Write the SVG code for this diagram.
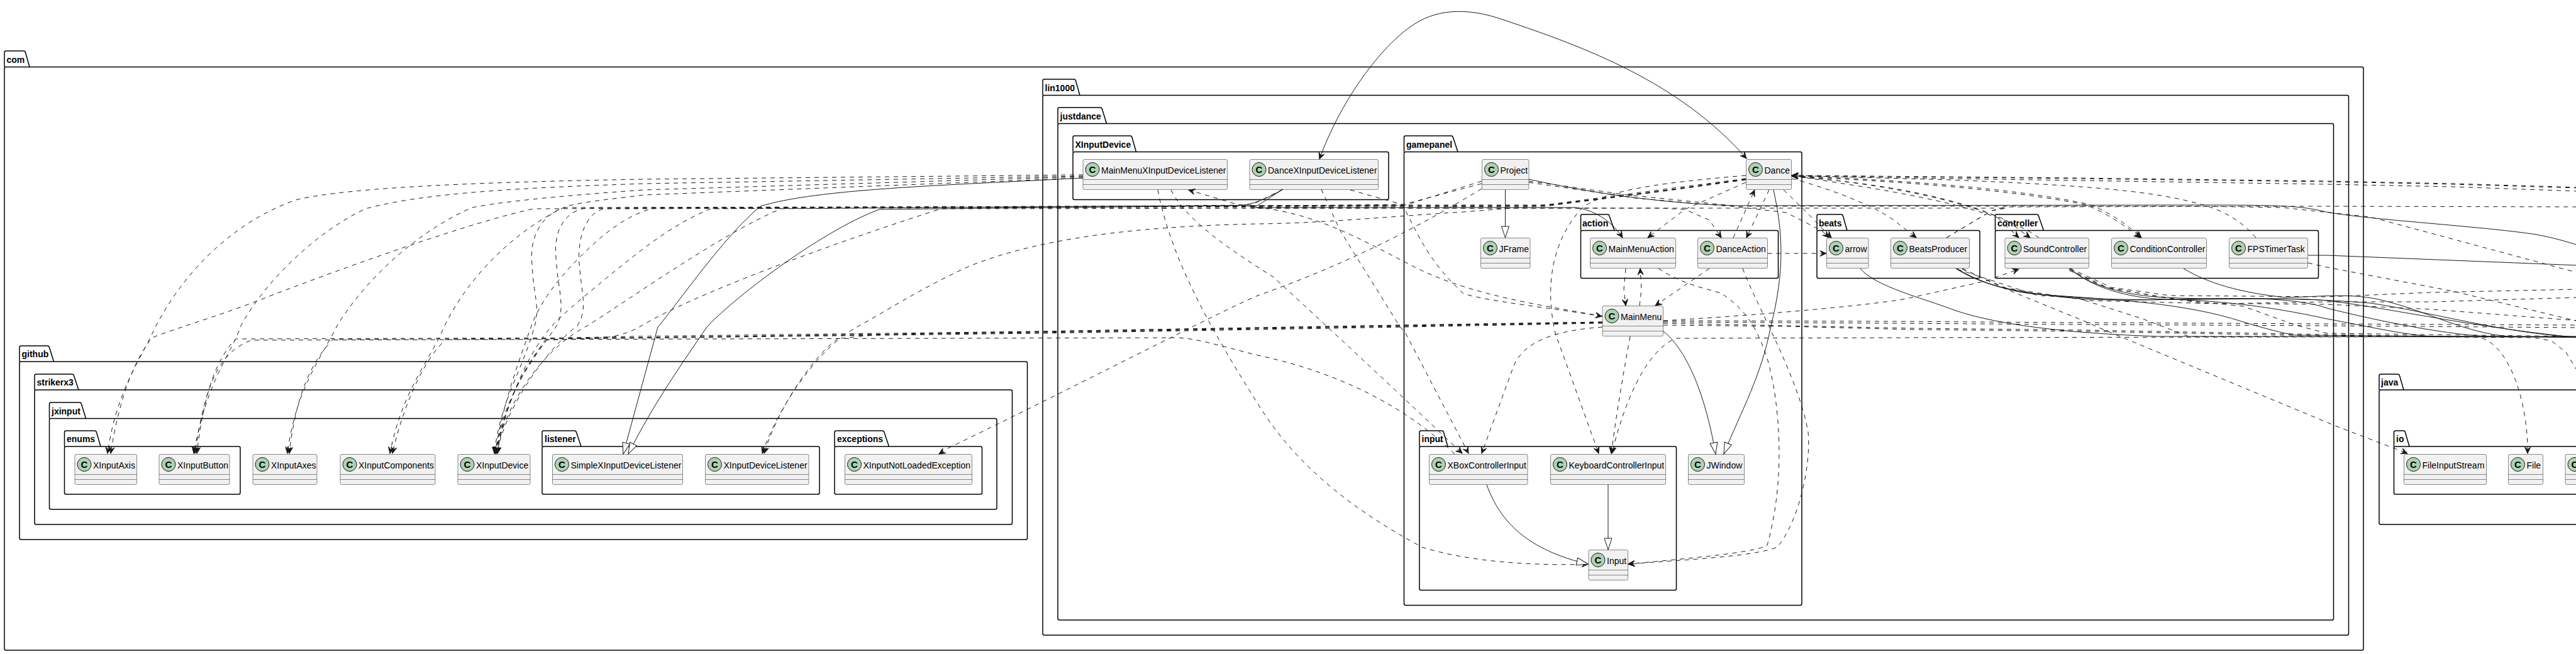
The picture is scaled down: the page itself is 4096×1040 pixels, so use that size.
<svg xmlns="http://www.w3.org/2000/svg" width="4096" height="1040" viewBox="0 0 4096 1040">
<style>
text{font-family:"Liberation Sans",Arial,sans-serif;fill:#000}
.p rect{fill:none;stroke:#000;stroke-width:1.5}
.p path{fill:none;stroke:#000;stroke-width:1.5}
.p text{font-size:14px;font-weight:bold}
.c rect{fill:#F1F1F1;stroke:#181818;stroke-width:.5}
.c path{fill:none;stroke:#181818;stroke-width:.5}
.c circle{fill:#ADD1B2;stroke:#181818;stroke-width:1}
.c text{font-size:14px}
.c text.g{font-size:15px;font-weight:bold;text-anchor:middle}
#connectors polyline,#connectors path{fill:none;stroke:#181818;stroke-width:1;stroke-linejoin:round}
#connectors .d{stroke-dasharray:7,7}
</style>
<defs>
<marker id="a" markerUnits="userSpaceOnUse" markerWidth="12" markerHeight="12" viewBox="-11 -6 12 12" refX="0" refY="0" orient="auto"><path d="M0,0 L-10,-4.5 L-6,0 L-10,4.5 Z" fill="#181818" stroke="#181818" stroke-width="1" stroke-dasharray="none"/></marker>
<marker id="t" markerUnits="userSpaceOnUse" markerWidth="22" markerHeight="16" viewBox="-20 -8 22 16" refX="0" refY="0" orient="auto"><path d="M0,0 L-18,-6 L-18,6 Z" fill="#fff" stroke="#181818" stroke-width="1" stroke-dasharray="none"/></marker>
</defs>

<g id="pkg-com" class="p"><rect x="7" y="106.5" width="3751" height="927.5" rx="2.5"/><path d="M7,106.5 V83.5 Q7,81 9.5,81 H37.5 Q40,81 40.5,83.5 L47,106.5"/><text x="10.5" y="99.5">com</text></g>
<g id="pkg-github" class="p"><rect x="31" y="575" width="1602.5" height="283" rx="2.5"/><path d="M31,575 V552.5 Q31,550 33.5,550 H75.5 Q78,550 78.5,552.5 L85.5,575"/><text x="34.5" y="568">github</text></g>
<g id="pkg-strikerx3" class="p"><rect x="55" y="620" width="1554.5" height="214" rx="2.5"/><path d="M55,620 V597.5 Q55,595 57.5,595 H114.5 Q117,595 117.5,597.5 L125,620"/><text x="58.5" y="613">strikerx3</text></g>
<g id="pkg-jxinput" class="p"><rect x="78.5" y="665.5" width="1506.5" height="144.5" rx="2.5"/><path d="M78.5,665.5 V642.5 Q78.5,640 81,640 H126.5 Q129,640 129.5,642.5 L136.5,665.5"/><text x="82" y="658.5">jxinput</text></g>
<g id="pkg-enums" class="p"><rect x="102.5" y="710" width="279.5" height="76" rx="2.5"/><path d="M102.5,710 V687.5 Q102.5,685 105,685 H150.5 Q153,685 153.5,687.5 L160,710"/><text x="106" y="703">enums</text></g>
<g id="pkg-listener" class="p"><rect x="862" y="710" width="441" height="76" rx="2.5"/><path d="M862,710 V687.5 Q862,685 864.5,685 H913.5 Q916,685 916.5,687.5 L924,710"/><text x="866" y="703">listener</text></g>
<g id="pkg-exceptions" class="p"><rect x="1327" y="710" width="234.5" height="76" rx="2.5"/><path d="M1327,710 V687.5 Q1327,685 1329.5,685 H1403 Q1405.5,685 1406,687.5 L1413.5,710"/><text x="1331" y="703">exceptions</text></g>
<g id="pkg-lin1000" class="p"><rect x="1658" y="151.5" width="2076.5" height="858.5" rx="2.5"/><path d="M1658,151.5 V128.5 Q1658,126 1660.5,126 H1707.5 Q1710,126 1710.5,128.5 L1717,151.5"/><text x="1661.5" y="144.5">lin1000</text></g>
<g id="pkg-justdance" class="p"><rect x="1682" y="196.5" width="2028.5" height="789.5" rx="2.5"/><path d="M1682,196.5 V173.5 Q1682,171 1684.5,171 H1749.5 Q1752,171 1752.5,173.5 L1759.5,196.5"/><text x="1685.5" y="189.5">justdance</text></g>
<g id="pkg-XInputDevice" class="p"><rect x="1706" y="241.5" width="502" height="76" rx="2.5"/><path d="M1706,241.5 V218.5 Q1706,216 1708.5,216 H1797 Q1799.5,216 1800,218.5 L1806.5,241.5"/><text x="1709.5" y="234.5">XInputDevice</text></g>
<g id="pkg-gamepanel" class="p"><rect x="2232.5" y="241.5" width="632.5" height="721" rx="2.5"/><path d="M2232.5,241.5 V218.5 Q2232.5,216 2235,216 H2307.5 Q2310,216 2310.5,218.5 L2318,241.5"/><text x="2236" y="234.5">gamepanel</text></g>
<g id="pkg-action" class="p"><rect x="2513.5" y="366.5" width="314" height="76" rx="2.5"/><path d="M2513.5,366.5 V343.5 Q2513.5,341 2516,341 H2556 Q2558.5,341 2559,343.5 L2567,366.5"/><text x="2516" y="359.5">action</text></g>
<g id="pkg-beats" class="p"><rect x="2889" y="366.5" width="259" height="76" rx="2.5"/><path d="M2889,366.5 V343.5 Q2889,341 2891.5,341 H2927.5 Q2930,341 2930.5,343.5 L2937,366.5"/><text x="2892" y="359.5">beats</text></g>
<g id="pkg-controller" class="p"><rect x="3172.5" y="366.5" width="514" height="76" rx="2.5"/><path d="M3172.5,366.5 V343.5 Q3172.5,341 3175,341 H3238.5 Q3241,341 3241.5,343.5 L3249.5,366.5"/><text x="3176" y="359.5">controller</text></g>
<g id="pkg-input" class="p"><rect x="2257" y="710" width="408.5" height="228.5" rx="2.5"/><path d="M2257,710 V687.5 Q2257,685 2259.5,685 H2292.5 Q2295,685 2295.5,687.5 L2302,710"/><text x="2260.5" y="703">input</text></g>
<g id="pkg-java" class="p"><rect x="3783" y="620" width="400" height="214" rx="2.5"/><path d="M3783,620 V597.5 Q3783,595 3785.5,595 H3812.5 Q3815,595 3815.5,597.5 L3822,620"/><text x="3786" y="613">java</text></g>
<g id="pkg-io" class="p"><rect x="3806.5" y="710" width="350" height="76" rx="2.5"/><path d="M3806.5,710 V687.5 Q3806.5,685 3809,685 H3821.5 Q3824,685 3824.5,687.5 L3831,710"/><text x="3810" y="703">io</text></g>

<g id="XInputAxis" class="c"><rect x="119" y="722.5" width="98.5" height="48" rx="2.5"/><path d="M119,754.5 H217.5 M119,762.5 H217.5"/><circle cx="134" cy="738.5" r="11"/><text class="g" x="134" y="744">C</text><text x="148" y="744.5">XInputAxis</text></g>
<g id="XInputButton" class="c"><rect x="253" y="722.5" width="112" height="48" rx="2.5"/><path d="M253,754.5 H365 M253,762.5 H365"/><circle cx="268" cy="738.5" r="11"/><text class="g" x="268" y="744">C</text><text x="282" y="744.5">XInputButton</text></g>
<g id="XInputAxes" class="c"><rect x="402" y="722.5" width="102" height="48" rx="2.5"/><path d="M402,754.5 H504 M402,762.5 H504"/><circle cx="417" cy="738.5" r="11"/><text class="g" x="417" y="744">C</text><text x="431" y="744.5">XInputAxes</text></g>
<g id="XInputComponents" class="c"><rect x="541" y="722.5" width="151" height="48" rx="2.5"/><path d="M541,754.5 H692 M541,762.5 H692"/><circle cx="556" cy="738.5" r="11"/><text class="g" x="556" y="744">C</text><text x="570" y="744.5">XInputComponents</text></g>
<g id="XInputDevice" class="c"><rect x="728" y="722.5" width="115" height="48" rx="2.5"/><path d="M728,754.5 H843 M728,762.5 H843"/><circle cx="743" cy="738.5" r="11"/><text class="g" x="743" y="744">C</text><text x="757" y="744.5">XInputDevice</text></g>
<g id="SimpleXInputDeviceListener" class="c"><rect x="878.5" y="722.5" width="207" height="48" rx="2.5"/><path d="M878.5,754.5 H1085.5 M878.5,762.5 H1085.5"/><circle cx="893.5" cy="738.5" r="11"/><text class="g" x="893.5" y="744">C</text><text x="907.5" y="744.5">SimpleXInputDeviceListener</text></g>
<g id="XInputDeviceListener" class="c"><rect x="1121.5" y="722.5" width="164.5" height="48" rx="2.5"/><path d="M1121.5,754.5 H1286 M1121.5,762.5 H1286"/><circle cx="1136.5" cy="738.5" r="11"/><text class="g" x="1136.5" y="744">C</text><text x="1150.5" y="744.5">XInputDeviceListener</text></g>
<g id="XInputNotLoadedException" class="c"><rect x="1343.5" y="722.5" width="202" height="48" rx="2.5"/><path d="M1343.5,754.5 H1545.5 M1343.5,762.5 H1545.5"/><circle cx="1358.5" cy="738.5" r="11"/><text class="g" x="1358.5" y="744">C</text><text x="1372.5" y="744.5">XInputNotLoadedException</text></g>
<g id="MainMenuXInputDeviceListener" class="c"><rect x="1722" y="253.5" width="229.5" height="48" rx="2.5"/><path d="M1722,285.5 H1951.5 M1722,293.5 H1951.5"/><circle cx="1737" cy="269.5" r="11"/><text class="g" x="1737" y="275">C</text><text x="1751" y="275.5">MainMenuXInputDeviceListener</text></g>
<g id="DanceXInputDeviceListener" class="c"><rect x="1987" y="253.5" width="204.5" height="48" rx="2.5"/><path d="M1987,285.5 H2191.5 M1987,293.5 H2191.5"/><circle cx="2002" cy="269.5" r="11"/><text class="g" x="2002" y="275">C</text><text x="2016" y="275.5">DanceXInputDeviceListener</text></g>
<g id="Project" class="c"><rect x="2356.5" y="253.5" width="74.5" height="48" rx="2.5"/><path d="M2356.5,285.5 H2431 M2356.5,293.5 H2431"/><circle cx="2371.5" cy="269.5" r="11"/><text class="g" x="2371.5" y="275">C</text><text x="2385.5" y="275.5">Project</text></g>
<g id="Dance" class="c"><rect x="2776.5" y="253.5" width="72" height="48" rx="2.5"/><path d="M2776.5,285.5 H2848.5 M2776.5,293.5 H2848.5"/><circle cx="2791.5" cy="269.5" r="11"/><text class="g" x="2791.5" y="275">C</text><text x="2805.5" y="275.5">Dance</text></g>
<g id="JFrame" class="c"><rect x="2354.5" y="378.5" width="78.5" height="48" rx="2.5"/><path d="M2354.5,410.5 H2433 M2354.5,418.5 H2433"/><circle cx="2369.5" cy="394.5" r="11"/><text class="g" x="2369.5" y="400">C</text><text x="2383.5" y="400.5">JFrame</text></g>
<g id="MainMenuAction" class="c"><rect x="2528.5" y="378.5" width="136" height="48" rx="2.5"/><path d="M2528.5,410.5 H2664.5 M2528.5,418.5 H2664.5"/><circle cx="2543.5" cy="394.5" r="11"/><text class="g" x="2543.5" y="400">C</text><text x="2557.5" y="400.5">MainMenuAction</text></g>
<g id="DanceAction" class="c"><rect x="2699.5" y="378.5" width="111" height="48" rx="2.5"/><path d="M2699.5,410.5 H2810.5 M2699.5,418.5 H2810.5"/><circle cx="2714.5" cy="394.5" r="11"/><text class="g" x="2714.5" y="400">C</text><text x="2728.5" y="400.5">DanceAction</text></g>
<g id="arrow" class="c"><rect x="2904.5" y="378.5" width="66.5" height="48" rx="2.5"/><path d="M2904.5,410.5 H2971 M2904.5,418.5 H2971"/><circle cx="2919.5" cy="394.5" r="11"/><text class="g" x="2919.5" y="400">C</text><text x="2933.5" y="400.5">arrow</text></g>
<g id="BeatsProducer" class="c"><rect x="3006.5" y="378.5" width="125" height="48" rx="2.5"/><path d="M3006.5,410.5 H3131.5 M3006.5,418.5 H3131.5"/><circle cx="3021.5" cy="394.5" r="11"/><text class="g" x="3021.5" y="400">C</text><text x="3035.5" y="400.5">BeatsProducer</text></g>
<g id="SoundController" class="c"><rect x="3188" y="378.5" width="133.5" height="48" rx="2.5"/><path d="M3188,410.5 H3321.5 M3188,418.5 H3321.5"/><circle cx="3203" cy="394.5" r="11"/><text class="g" x="3203" y="400">C</text><text x="3217" y="400.5">SoundController</text></g>
<g id="ConditionController" class="c"><rect x="3357.5" y="378.5" width="151" height="48" rx="2.5"/><path d="M3357.5,410.5 H3508.5 M3357.5,418.5 H3508.5"/><circle cx="3372.5" cy="394.5" r="11"/><text class="g" x="3372.5" y="400">C</text><text x="3386.5" y="400.5">ConditionController</text></g>
<g id="FPSTimerTask" class="c"><rect x="3544.5" y="378.5" width="125" height="48" rx="2.5"/><path d="M3544.5,410.5 H3669.5 M3544.5,418.5 H3669.5"/><circle cx="3559.5" cy="394.5" r="11"/><text class="g" x="3559.5" y="400">C</text><text x="3573.5" y="400.5">FPSTimerTask</text></g>
<g id="MainMenu" class="c"><rect x="2548" y="486.5" width="96.5" height="48" rx="2.5"/><path d="M2548,518.5 H2644.5 M2548,526.5 H2644.5"/><circle cx="2563" cy="502.5" r="11"/><text class="g" x="2563" y="508">C</text><text x="2577" y="508.5">MainMenu</text></g>
<g id="XBoxControllerInput" class="c"><rect x="2272.5" y="722.5" width="156.5" height="48" rx="2.5"/><path d="M2272.5,754.5 H2429 M2272.5,762.5 H2429"/><circle cx="2287.5" cy="738.5" r="11"/><text class="g" x="2287.5" y="744">C</text><text x="2301.5" y="744.5">XBoxControllerInput</text></g>
<g id="KeyboardControllerInput" class="c"><rect x="2465.5" y="722.5" width="183" height="48" rx="2.5"/><path d="M2465.5,754.5 H2648.5 M2465.5,762.5 H2648.5"/><circle cx="2480.5" cy="738.5" r="11"/><text class="g" x="2480.5" y="744">C</text><text x="2494.5" y="744.5">KeyboardControllerInput</text></g>
<g id="JWindow" class="c"><rect x="2684.5" y="722.5" width="89" height="48" rx="2.5"/><path d="M2684.5,754.5 H2773.5 M2684.5,762.5 H2773.5"/><circle cx="2699.5" cy="738.5" r="11"/><text class="g" x="2699.5" y="744">C</text><text x="2713.5" y="744.5">JWindow</text></g>
<g id="Input" class="c"><rect x="2526" y="874.5" width="62.5" height="48" rx="2.5"/><path d="M2526,906.5 H2588.5 M2526,914.5 H2588.5"/><circle cx="2541" cy="890.5" r="11"/><text class="g" x="2541" y="896">C</text><text x="2555" y="896.5">Input</text></g>
<g id="FileInputStream" class="c"><rect x="3822.5" y="722.5" width="131" height="48" rx="2.5"/><path d="M3822.5,754.5 H3953.5 M3822.5,762.5 H3953.5"/><circle cx="3837.5" cy="738.5" r="11"/><text class="g" x="3837.5" y="744">C</text><text x="3851.5" y="744.5">FileInputStream</text></g>
<g id="File" class="c"><rect x="3988.5" y="722.5" width="55" height="48" rx="2.5"/><path d="M3988.5,754.5 H4043.5 M3988.5,762.5 H4043.5"/><circle cx="4003.5" cy="738.5" r="11"/><text class="g" x="4003.5" y="744">C</text><text x="4017.5" y="744.5">File</text></g>
<g id="ClippedClass" class="c"><rect x="4079" y="722.5" width="60" height="48" rx="2.5"/><path d="M4079,754.5 H4139 M4079,762.5 H4139"/><circle cx="4094" cy="738.5" r="11"/><text class="g" x="4094" y="744">C</text></g>

<g id="connectors">
<path class="d" marker-end="url(#a)" d="M1722,278 L1024,285 C800,289 560,296 470,318 C380,350 300,420 248,518 C225,570 185,620 171,721"/>
<path class="d" marker-end="url(#a)" d="M1722,280 L1024,292 C850,298 680,305 581,332 C500,370 420,450 383,518 C370,560 330,600 308,721"/>
<path class="d" marker-end="url(#a)" d="M1722,281 L1024,302 C880,312 790,322 751,330 C680,360 590,430 536,518 C510,570 470,620 457,721"/>
<path class="d" marker-end="url(#a)" d="M1722,283 L1024,310 C980,316 930,320 901,328 C830,360 750,430 707,518 C680,580 640,620 620,721"/>
<path marker-end="url(#t)" d="M1722,283 C1500,295 1300,300 1209,328 C1150,377 1080,480 1046,520 L991,722"/>
<path marker-end="url(#t)" d="M2040,301 C2010,318 1990,326 1967,327 L1398,333 C1300,370 1160,480 1124,520 C1090,570 1040,640 999,722"/>
<path class="d" marker-end="url(#a)" d="M2776,285 L2653,302 L2457,327 L1400,330 L849,332 C760,350 560,420 405,480 C340,505 270,525 242,537 C215,570 190,630 176,721"/>
<path class="d" marker-end="url(#a)" d="M2776,285 L2653,302 L2457,327 L2232,327 L900,330 C870,335 840,370 846,420 C848,470 860,490 849,522 C830,590 795,640 786,721"/>
<path class="d" marker-end="url(#a)" d="M2776,284 L2653,300 L2457,326 L2232,326 L930,331 C895,338 880,370 884,410 C887,460 900,490 885,518 C865,550 800,620 788,721"/>
<path class="d" marker-end="url(#a)" d="M2776,286 L2653,303 L2457,328 L2232,329 L960,332 C930,340 918,380 921,420 C925,470 935,490 918,518 C880,545 805,640 790,721"/>
<path class="d" marker-end="url(#a)" d="M2356,292 L2232,325 L1967,328 L1040,331 C1000,340 960,370 921,410 C880,450 855,490 845,518 C825,575 800,640 787,721"/>
<path class="d" marker-end="url(#a)" d="M2356,288 L2232,327 L1967,327 L1130,332 C1060,360 1000,413 927,473 C895,500 885,510 878,518 C840,560 805,640 789,721"/>
<path class="d" marker-end="url(#a)" d="M2040,301 L1990,326 L1242,332 C1150,370 1010,470 934,518 C880,545 810,620 788,721"/>
<path class="d" marker-end="url(#a)" d="M3095,378 L3167,335 L3190,331 L2232,331 L1496,332 C1300,395 1100,470 1020,518 C1000,530 980,535 960,537 L869,541 C835,582 803,640 788,721"/>
<path class="d" marker-end="url(#a)" d="M2548,512 L2233,517 L1653,527 L1000,535 L869,538 C830,590 803,640 791,721"/>
<path class="d" marker-end="url(#a)" d="M2776,285 C2650,303 2500,325 2326,337 C2200,345 2100,355 2000,356 C1800,360 1650,380 1542,423 C1470,455 1400,500 1366,518 L1333,538 C1300,560 1240,640 1215,721"/>
<path class="d" marker-end="url(#a)" d="M2548,512 L2233,517 L1653,527 L1400,532 L1336,538 C1300,565 1240,640 1212,721"/>
<path class="d" marker-end="url(#a)" d="M2548,513 L2233,518 L1653,528 L1000,537 L375,539 C345,570 325,620 313,721"/>
<path class="d" marker-end="url(#a)" d="M2548,513 L2233,519 L1653,529 L1000,537 L529,540 C495,575 470,630 460,721"/>
<path class="d" marker-end="url(#a)" d="M2548,514 L2233,520 L1653,530 L1000,538 L709,540 C680,565 645,630 624,721"/>
<path class="d" marker-end="url(#a)" d="M2313,722 C2229,640 2118,590 2000,565 C1940,550 1900,537 1869,537 L400,541 C345,560 325,620 310,721"/>
<path class="d" marker-end="url(#a)" d="M2356,300 C2290,340 2170,410 2000,470 C1940,495 1700,620 1509,712 L1493,722"/>
<path class="d" marker-end="url(#a)" d="M2548,503 C2450,485 2340,470 2250,425 C2180,390 2100,340 2000,330 L1967,325 L1890,302"/>
<path class="d" marker-end="url(#a)" d="M2147,302 L2229,325 C2250,360 2265,410 2327,467 C2370,480 2470,490 2547,503"/>
<path class="d" marker-end="url(#a)" d="M1862,302 C1885,350 1960,400 2024,440 C2090,500 2240,640 2325,721"/>
<polyline class="d" marker-end="url(#a)" points="2101,301 2131,367 2225,518 2235,530 2335,721"/>
<path class="d" marker-end="url(#a)" d="M2548,520 C2480,525 2420,540 2405,587 L2356,721"/>
<path class="d" marker-end="url(#a)" d="M1841,302 C1860,400 1910,500 2000,642 C2060,740 2150,810 2261,870 C2340,895 2450,900 2525,897"/>
<path marker-end="url(#t)" d="M2393.5,301.5 V378"/>
<path class="d" marker-end="url(#a)" d="M2776,279 C2650,290 2560,300 2516,330 C2470,380 2455,450 2473,530 L2542,721"/>
<polyline class="d" marker-end="url(#a)" points="2776,290 2679,333 2620,378"/>
<polyline class="d" marker-end="url(#a)" points="2813,302 2777,378"/>
<polyline class="d" marker-end="url(#a)" points="2756,378 2790,302"/>
<polyline class="d" marker-end="url(#a)" points="2836,302 2863,328 2912,378"/>
<polyline class="d" marker-end="url(#a)" points="2431,290 2600,315 2762,329 2840,338 2897,367 2908,378"/>
<path marker-end="url(#a)" d="M2040,301 C2010,320 2000,328 1990,330 L2505,330 C2540,335 2565,355 2580,378"/>
<polyline class="d" marker-end="url(#a)" points="2000,331 2640,331 2679,333 2718,350 2737,378"/>
<polyline class="d" marker-end="url(#a)" points="2585,427 2582,460 2585,486"/>
<polyline class="d" marker-end="url(#a)" points="2607,486 2610,460 2608,427"/>
<polyline class="d" marker-end="url(#a)" points="2718,427 2632,486"/>
<path class="d" marker-end="url(#a)" d="M2637,427 C2680,455 2720,460 2738,467 C2770,490 2790,510 2810,570 C2830,640 2840,760 2810,867 C2790,880 2660,890 2589,897"/>
<path class="d" marker-end="url(#a)" d="M2771,427 C2790,480 2860,600 2875,687 C2880,740 2860,830 2826,870 C2790,885 2680,890 2589,897"/>
<path marker-end="url(#t)" d="M2820,302 C2835,370 2838,430 2816,518 C2800,600 2770,650 2741,722"/>
<path marker-end="url(#t)" d="M2645,527 C2680,555 2710,620 2728,722"/>
<path class="d" marker-end="url(#a)" d="M2592,535 C2580,600 2570,660 2562,721"/>
<path class="d" marker-end="url(#a)" d="M4100,535 L3025,537 L2666,538 C2630,550 2590,610 2563,721"/>
<path marker-end="url(#t)" d="M2557,770.5 V874"/>
<path marker-end="url(#t)" d="M2364,771 C2385,830 2430,875 2525,897"/>
<polyline class="d" marker-end="url(#a)" points="2810.5,403 2904,403"/>
<path marker-end="url(#a)" d="M2242,43 C2190,80 2130,165 2098,253"/>
<path marker-end="url(#a)" d="M2242,43 C2280,15 2330,10 2392,32 C2520,75 2670,130 2777,252"/>
<path class="d" marker-end="url(#a)" d="M3587,378 C3560,345 3520,330 3500,325 C3430,305 3330,295 3100,286 L2849,279"/>
<path class="d" marker-end="url(#a)" d="M3242,378 C3200,347 3107,320 2950,295 L2849,279"/>
<path class="d" marker-end="url(#a)" d="M2850,280 C3000,285 3200,298 3322,325 C3360,340 3385,360 3405,378"/>
<path class="d" marker-end="url(#a)" d="M2850,281 C3000,287 3190,300 3318,326 C3355,342 3380,360 3403,378"/>
<path class="d" marker-end="url(#a)" d="M2850,281 C2950,288 3080,305 3173,343 L3210,378"/>
<path class="d" marker-end="url(#a)" d="M2850,280 C2970,290 3100,312 3190,350 L3228,378"/>
<path class="d" marker-end="url(#a)" d="M2849,284 C2910,300 2990,330 3020,357 L3047,378"/>
<polyline class="d" marker-end="url(#a)" points="4100,298 3900,292 3700,288 3300,283 2849,279"/>
<polyline class="d" marker-end="url(#a)" points="4100,299 3900,293 3700,289 3300,284 2849,279"/>
<polyline class="d" marker-end="url(#a)" points="4100,304 3900,297 3700,293 3300,287 2849,280"/>
<polyline class="d" points="2645,510 3000,511 3300,513 3700,515 4100,517"/>
<polyline class="d" points="2645,512 3000,514 3300,516 3700,518 4100,521"/>
<path class="d" marker-end="url(#a)" d="M2645,510 C2816,500 3000,483 3040,473 L3157,447 L3210,428"/>
<polyline class="d" points="3095,378 3167,335 3190,329 3700,328 4100,329"/>
<path d="M2958,427 C2980,455 3060,475 3107,493 C3170,515 3280,530 3433,535 L4100,536"/>
<path d="M3110,427 C3150,450 3200,465 3240,468 C3350,476 3470,480 3567,512 C3600,522 3630,530 3650,533 L4100,536"/>
<path d="M3110,427 C3150,452 3200,467 3320,476 C3450,482 3620,462 3700,490 C3780,510 3900,535 3967,535 L4100,536"/>
<path d="M3112,427 C3150,452 3200,466 3300,473 C3420,482 3620,470 3700,478 C3800,490 3930,520 4100,537"/>
<path d="M3472,427 C3510,450 3560,465 3633,473 C3690,472 3740,465 3790,478 C3860,495 3920,530 3990,535 L4100,536"/>
<path d="M3290,427 C3330,460 3400,472 3447,473 C3520,478 3620,470 3769,482 C3860,495 3990,532 4100,536"/>
<path d="M3292,427 C3330,462 3400,476 3450,476 C3520,478 3600,485 3700,507 C3760,518 3820,532 3867,535 L4100,536"/>
<path d="M3670,406 L3700,406 L4100,422"/>
<path d="M2431,285 C2520,305 2650,325 2764,327 L3500,326 C3640,326 3660,328 3699,337 C3760,349 3950,360 4033,373 C4060,378 4080,384 4100,390"/>
<polyline class="d" points="3292,427 3357,457 3450,470 3700,472 3867,465 4100,460"/>
<polyline class="d" points="3120,428 3190,458 3320,478 3533,483 3700,480 3867,480 4100,473"/>
<polyline class="d" points="3290,430 3350,458 3500,482 3700,484 3867,492 4100,510"/>
<polyline class="d" points="3670,418 3700,425 3900,463 4100,511"/>
<polyline class="d" points="2431,288 2588,310 2764,328 3500,328 3629,330 3769,345 4100,434"/>
<polyline class="d" points="3290,428 3350,457 3450,475 3567,487 3650,517 3700,530 4100,535"/>
<polyline class="d" points="3112,428 3240,470 3300,473 3407,507 3480,535 3700,535"/>
<polyline class="d" marker-end="url(#a)" points="3120,427 3190,460 3320,513 3335,520 3713,677 3828,721"/>
<path class="d" marker-end="url(#a)" d="M2645,514 L3040,522 L3320,525 L3700,532 L3940,536 C3990,545 4020,640 4019,721"/>
<polyline class="d" points="2645,517 2840,519 3040,524 3320,527 3700,534 4030,537 4057,542 4080,560 4110,610"/>
</g>
</svg>
